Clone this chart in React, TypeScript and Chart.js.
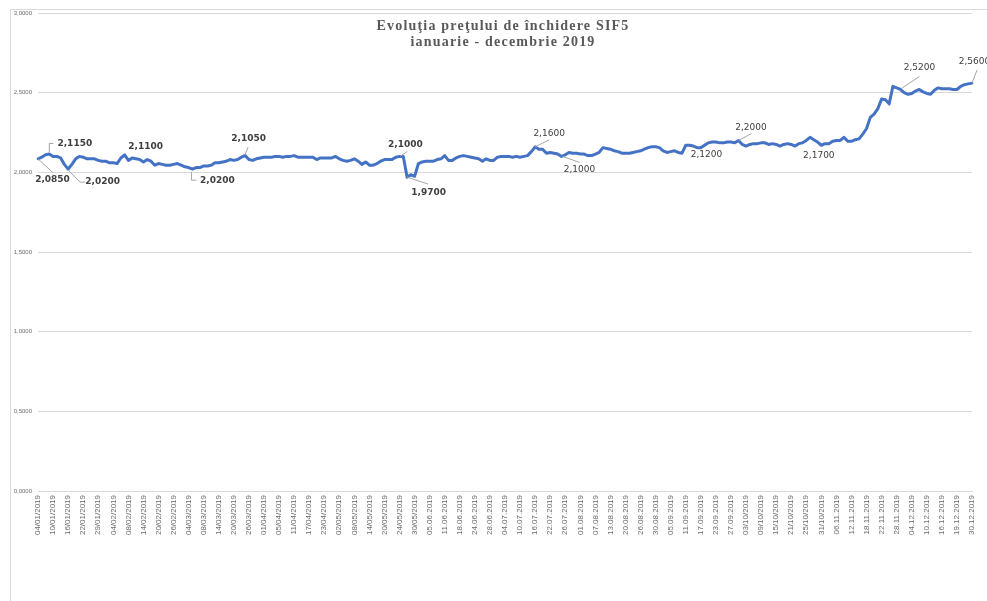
import React, { useEffect, useRef } from "react";
import { Chart, registerables } from "chart.js";

Chart.register(...registerables);

const TITLE_LINES = ["Evoluţia preţului de închidere SIF5", "ianuarie - decembrie 2019"];

const TICK_LABELS = [
  "04/01/2019", "10/01/2019", "16/01/2019", "22/01/2019", "29/01/2019", "04/02/2019", "08/02/2019",
  "14/02/2019", "20/02/2019", "26/02/2019", "04/03/2019", "08/03/2019", "14/03/2019", "20/03/2019",
  "26/03/2019", "01/04/2019", "05/04/2019", "11/04/2019", "17/04/2019", "23/04/2019", "02/05/2019",
  "08/05/2019", "14/05/2019", "20/05/2019", "24/05/2019", "30/05/2019", "05.06.2019", "11.06.2019",
  "18.06.2019", "24.06.2019", "28.06.2019", "04.07.2019", "10.07.2019", "16.07.2019", "22.07.2019",
  "26.07.2019", "01.08.2019", "07.08.2019", "13.08.2019", "20.08.2019", "26.08.2019", "30.08.2019",
  "05.09.2019", "11.09.2019", "17.09.2019", "23.09.2019", "27.09.2019", "03/10/2019", "09/10/2019",
  "15/10/2019", "21/10/2019", "25/10/2019", "31/10/2019", "06.11.2019", "12.11.2019", "18.11.2019",
  "22.11.2019", "28.11.2019", "04.12.2019", "10.12.2019", "16.12.2019", "19.12.2019", "30.12.2019",
];

// one label every 4 trading sessions
const LABEL_EVERY = 4;

const PRICES = [
  2.085, 2.095, 2.11, 2.115, 2.10, 2.10, 2.09, 2.05, 2.02, 2.05,
  2.085, 2.10, 2.095, 2.085, 2.085, 2.085, 2.075, 2.07, 2.07, 2.06,
  2.06, 2.055, 2.09, 2.11, 2.075, 2.09, 2.085, 2.08, 2.065, 2.08,
  2.07, 2.045, 2.055, 2.05, 2.045, 2.045, 2.05, 2.055, 2.045, 2.035,
  2.03, 2.02, 2.03, 2.03, 2.04, 2.04, 2.045, 2.06, 2.06, 2.065,
  2.07, 2.08, 2.075, 2.08, 2.095, 2.105, 2.08, 2.075, 2.085, 2.09,
  2.095, 2.095, 2.095, 2.10, 2.10, 2.095, 2.10, 2.10, 2.105, 2.095,
  2.095, 2.095, 2.095, 2.095, 2.08, 2.09, 2.09, 2.09, 2.09, 2.10,
  2.085, 2.075, 2.07, 2.075, 2.085, 2.07, 2.05, 2.065, 2.045, 2.045,
  2.055, 2.07, 2.08, 2.08, 2.08, 2.095, 2.10, 2.10, 1.97, 1.985,
  1.975, 2.055, 2.065, 2.07, 2.07, 2.07, 2.08, 2.085, 2.105, 2.075,
  2.075, 2.09, 2.10, 2.105, 2.10, 2.095, 2.09, 2.085, 2.07, 2.085,
  2.075, 2.075, 2.095, 2.10, 2.10, 2.10, 2.095, 2.10, 2.095, 2.10,
  2.105, 2.13, 2.16, 2.145, 2.145, 2.12, 2.125, 2.12, 2.115, 2.10,
  2.11, 2.125, 2.12, 2.12, 2.115, 2.115, 2.105, 2.105, 2.115, 2.125,
  2.155, 2.15, 2.145, 2.135, 2.13, 2.12, 2.12, 2.12, 2.125, 2.13,
  2.135, 2.145, 2.155, 2.16, 2.16, 2.155, 2.135, 2.125, 2.13, 2.135,
  2.125, 2.12, 2.17, 2.17, 2.165, 2.155, 2.155, 2.17, 2.185, 2.19,
  2.19, 2.185, 2.185, 2.19, 2.19, 2.185, 2.20, 2.175, 2.165, 2.175,
  2.18, 2.18, 2.185, 2.185, 2.175, 2.18, 2.175, 2.165, 2.175, 2.18,
  2.175, 2.165, 2.18, 2.185, 2.20, 2.22, 2.205, 2.19, 2.17, 2.18,
  2.18, 2.195, 2.20, 2.20, 2.22, 2.195, 2.195, 2.205, 2.21, 2.24,
  2.275, 2.345, 2.365, 2.40, 2.46, 2.455, 2.43, 2.54, 2.53, 2.52,
  2.50, 2.49, 2.495, 2.51, 2.52, 2.505, 2.495, 2.49, 2.515, 2.53,
  2.525, 2.525, 2.525, 2.52, 2.52, 2.54, 2.55, 2.555, 2.56,
];

// indices of the sessions that carry a data label
const LABELLED_POINTS = [0, 3, 8, 23, 41, 55, 97, 98, 132, 139, 171, 186, 208, 229, 248];

const Y_MIN = 0;
const Y_MAX = 3;
const Y_STEP = 0.5;

// placement of each data label relative to its point (styling only)
const LABEL_PLACEMENT = [
  { dx: 14.5, dy: 20.5, bold: true, leader: [[0, 0], [15, 14]] },
  { dx: 25.5, dy: -10.5, bold: true, leader: [[0, -2], [0, -10.5], [4, -10.5]] },
  { dx: 34.5, dy: 13, bold: true, leader: [[0, 1], [12, 13], [17, 13]] },
  { dx: 21, dy: -8.5, bold: true, leader: [] },
  { dx: 25, dy: 12, bold: true, leader: [[-1, 3], [-1, 11], [4, 11]] },
  { dx: 3.5, dy: -17, bold: true, leader: [[0, -1], [3, -8.5]] },
  { dx: 2, dy: -12, bold: true, leader: [[-3, 0], [4, -5]] },
  { dx: 21.5, dy: 16, bold: true, leader: [[0, 0], [21, 7]] },
  { dx: 14, dy: -13.5, bold: false, leader: [[0, 0], [14, -7]] },
  { dx: 18, dy: 13.3, bold: false, leader: [[1, 0], [18, 6]] },
  { dx: 24.5, dy: 1.5, bold: false, leader: [] },
  { dx: 12.5, dy: -12.7, bold: false, leader: [[0, 0], [13, -7]] },
  { dx: -2.5, dy: 10, bold: false, leader: [] },
  { dx: 19, dy: -22, bold: false, leader: [[1, -1], [19, -13]] },
  { dx: 2.5, dy: -21, bold: false, leader: [[0, 0], [5, -13]] },
];

const fmt = (v: number) => v.toFixed(4).replace(".", ",");

const decorPlugin = {
  id: "decor",
  beforeDraw(chart: any) {
    const ctx = chart.ctx;
    ctx.save();
    ctx.fillStyle = "#ffffff";
    ctx.fillRect(0, 0, chart.width, chart.height);
    ctx.strokeStyle = "#d9d9d9";
    ctx.lineWidth = 1;
    ctx.strokeRect(10.5, 9.5, chart.width + 20, chart.height + 20);
    ctx.restore();
  },
  afterDatasetsDraw(chart: any) {
    const ctx = chart.ctx;
    const meta = chart.getDatasetMeta(0);
    const data = chart.data.datasets[0].data as number[];
    ctx.save();
    LABELLED_POINTS.forEach((idx, k) => {
      const el = meta.data[idx];
      if (!el) return;
      const pl = LABEL_PLACEMENT[k];
      const px = el.x;
      const py = el.y;
      if (pl.leader.length > 1) {
        ctx.beginPath();
        ctx.strokeStyle = "#a6a6a6";
        ctx.lineWidth = 1;
        pl.leader.forEach(([lx, ly], j) => {
          if (j === 0) ctx.moveTo(px + lx, py + ly);
          else ctx.lineTo(px + lx, py + ly);
        });
        ctx.stroke();
      }
      ctx.font = `${pl.bold ? "bold " : ""}9px "DejaVu Sans"`;
      ctx.fillStyle = "#404040";
      ctx.textAlign = "center";
      ctx.textBaseline = "middle";
      ctx.fillText(fmt(data[idx]), px + pl.dx, py + pl.dy);
    });

    // title overlaid on plot area
    const area = chart.chartArea;
    const cx = (area.left + area.right) / 2 - 2;
    ctx.font = 'bold 14px "Liberation Serif"';
    (ctx as any).letterSpacing = "1.2px";
    ctx.fillStyle = "#595959";
    ctx.textAlign = "center";
    ctx.textBaseline = "alphabetic";
    ctx.fillText(TITLE_LINES[0], cx, area.top + 16.5);
    ctx.fillText(TITLE_LINES[1], cx, area.top + 33);
    ctx.restore();
  },
};

export default function App() {
  const canvasRef = useRef<HTMLCanvasElement | null>(null);

  useEffect(() => {
    if (!canvasRef.current) return;
    const labels = PRICES.map((_, i) =>
      i % LABEL_EVERY === 0 && TICK_LABELS[i / LABEL_EVERY] ? TICK_LABELS[i / LABEL_EVERY] : ""
    );
    const chart = new Chart(canvasRef.current, {
      type: "line",
      data: {
        labels,
        datasets: [
          {
            data: PRICES,
            borderColor: "#4472C4",
            backgroundColor: "#4472C4",
            borderWidth: 3,
            pointRadius: 0,
            tension: 0,
            borderJoinStyle: "round",
            borderCapStyle: "round",
            fill: false,
          },
        ],
      },
      options: {
        animation: false,
        responsive: false,
        devicePixelRatio: window.devicePixelRatio || 1,
        layout: { padding: { left: 10, right: 15, top: 13, bottom: 0 } },
        plugins: {
          legend: { display: false },
          title: { display: false },
          tooltip: { enabled: false },
        },
        scales: {
          x: {
            type: "category",
            offset: false,
            grid: { display: false, drawTicks: false },
            border: { display: true, color: "#d9d9d9", width: 1 },
            ticks: {
              autoSkip: false,
              maxRotation: 90,
              minRotation: 90,
              padding: 4,
              color: "#6b6b6b",
              font: { family: '"Liberation Sans"', size: 8 },
            },
            afterFit: (scale: any) => {
              scale.height = 110;
            },
          },
          y: {
            min: Y_MIN,
            max: Y_MAX,
            grid: { color: "#d9d9d9", lineWidth: 1, drawTicks: false },
            border: { display: false },
            ticks: {
              stepSize: Y_STEP,
              padding: 6,
              color: "#6b6b6b",
              font: { family: '"Liberation Sans"', size: 6 },
              callback: (v: any) => fmt(Number(v)),
            },
            afterFit: (scale: any) => {
              scale.width = 28;
            },
          },
        },
      },
      plugins: [decorPlugin],
    });
    return () => chart.destroy();
  }, []);

  return (
    <div style={{ position: "fixed", left: 0, top: 0, width: 987, height: 601, background: "#fff" }}>
      <canvas ref={canvasRef} width={987} height={601} style={{ width: 987, height: 601, display: "block" }} />
    </div>
  );
}
